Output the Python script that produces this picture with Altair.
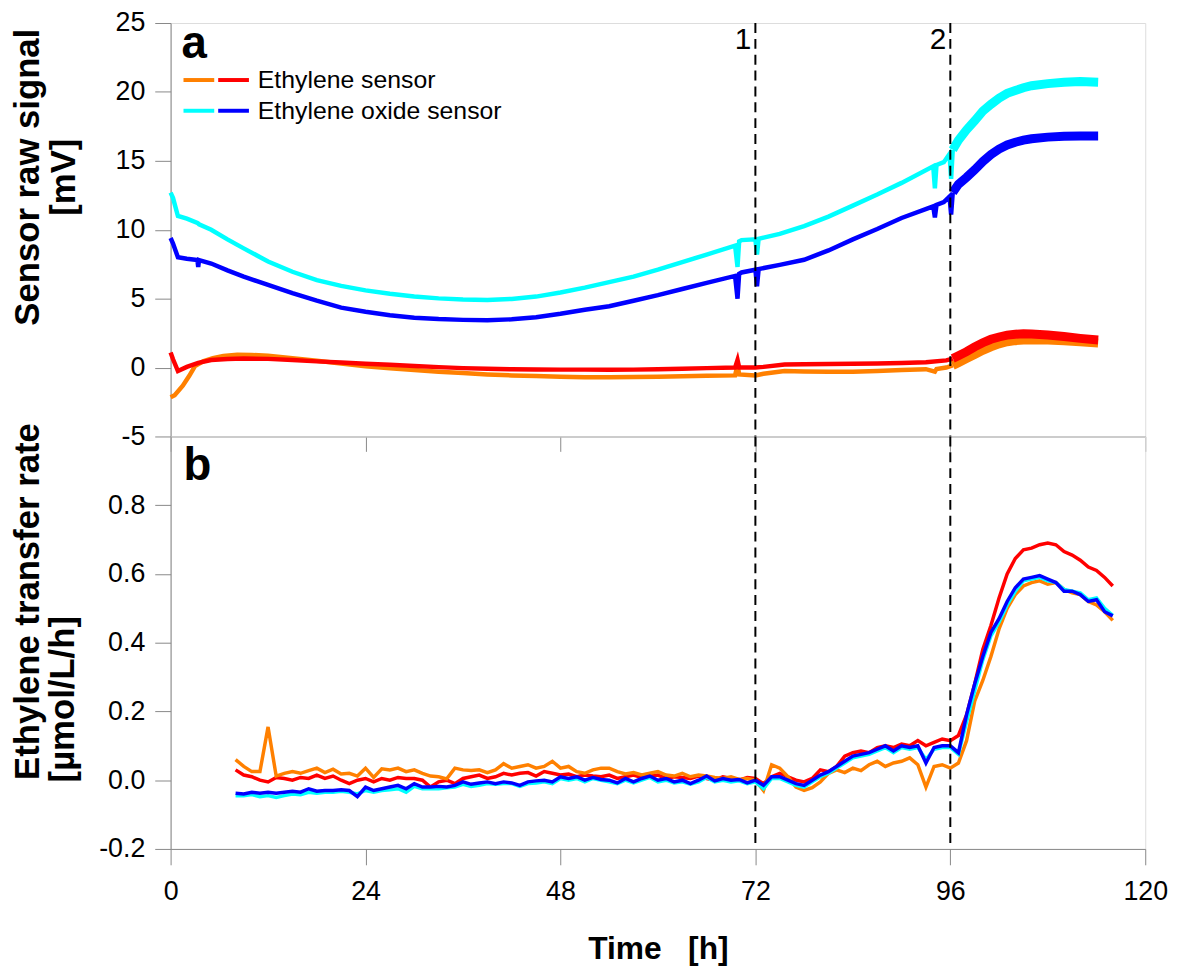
import altair as alt
import pandas as pd

SERIES = ["Ethylene sensor", "Ethylene oxide sensor"]
ORANGE, RED, CYAN, BLUE = "#FF8000", "#FF0000", "#00FFFF", "#0000FF"

# ---------------- panel a: raw sensor signal [mV] ----------------
T_EO = [0, 0.3, 0.9, 2, 3.3, 3.4, 3.5, 5, 7, 9, 12, 15, 18, 21, 24, 27, 30, 33, 36, 39,
        42, 45, 48, 51, 54, 57, 60, 63, 66, 69.5, 69.8, 70.0, 70.3, 72.0, 72.2, 72.4, 75, 78,
        81, 84, 87, 90, 93.9, 94.1, 94.3, 95.2, 95.9, 96.1, 96.3, 97, 98, 99, 100, 101, 102,
        103, 104, 105, 106, 108, 110, 112, 114.2]
A_CYAN = [12.7, 12.3, 11.0, 10.8, 10.5, 10.45, 10.4, 10.0, 9.3, 8.65, 7.7, 6.95, 6.35, 5.93,
          5.6, 5.35, 5.15, 5.02, 4.94, 4.9, 4.98, 5.15, 5.45, 5.8, 6.2, 6.6, 7.1, 7.65, 8.2,
          8.85, 7.3, 9.15, 9.25, 9.3, 8.2, 9.35, 9.7, 10.27, 10.95, 11.75, 12.55, 13.4, 14.6,
          13.0, 14.7, 14.9, 15.5, 13.7, 15.8, 16.5, 17.25, 17.9, 18.6, 19.1, 19.55, 19.9, 20.1,
          20.3, 20.45, 20.6, 20.7, 20.75, 20.7]
A_BLUE = [9.4, 9.0, 8.0, 7.9, 7.8, 7.3, 7.8, 7.55, 7.05, 6.6, 6.0, 5.4, 4.85, 4.35, 4.05, 3.8,
          3.62, 3.52, 3.46, 3.43, 3.5, 3.65, 3.9, 4.2, 4.45, 4.85, 5.25, 5.7, 6.15, 6.65, 5.0,
          6.8, 6.9, 7.1, 5.9, 7.15, 7.45, 7.82, 8.5, 9.3, 10.05, 10.85, 11.7, 10.9, 11.8, 12.0,
          12.4, 11.1, 12.7, 13.3, 13.8, 14.35, 14.95, 15.45, 15.85, 16.15, 16.35, 16.5, 16.6,
          16.72, 16.78, 16.8, 16.8]
T_RED = [0, 0.3, 0.9, 2, 3.4, 5, 7, 9, 12, 15, 18, 21, 24, 27, 30, 33, 36, 39, 42, 45, 48, 51,
         54, 57, 60, 63, 66, 69.5, 69.8, 70.0, 72, 73, 75.6, 78, 81, 84, 87, 90, 93, 95.5, 96.3,
         97, 98, 99, 100, 101, 102, 103, 104, 105, 106, 108, 110, 112, 114.2]
A_RED = [1.1, 0.6, -0.25, 0.05, 0.34, 0.55, 0.62, 0.65, 0.63, 0.55, 0.45, 0.37, 0.28, 0.2, 0.12,
         0.03, -0.04, -0.09, -0.12, -0.14, -0.15, -0.15, -0.16, -0.15, -0.12, -0.08, -0.04, 0.0,
         0.55, 0.0, 0.0, 0.05, 0.22, 0.24, 0.26, 0.27, 0.3, 0.33, 0.38, 0.52, 0.65, 0.85, 1.15,
         1.5, 1.8, 2.05, 2.22, 2.35, 2.42, 2.45, 2.43, 2.36, 2.25, 2.12, 2.0]
T_ORANGE = [0, 0.5, 1.5, 2.3, 3, 4, 5.2, 6.5, 8.2, 10, 12, 15, 18, 21, 24, 27, 30, 33, 36, 39,
            42, 45, 48, 51, 54, 57, 60, 63, 66, 69.5, 69.8, 70.0, 72, 73, 75.6, 78, 81, 84, 87,
            90, 93, 94.1, 94.3, 95.5, 96.3, 97, 98, 99, 100, 101, 102, 103, 104, 105, 106, 108,
            110, 112, 114.2]
A_ORANGE = [-2.15, -2.0, -1.32, -0.6, 0.1, 0.45, 0.69, 0.85, 0.93, 0.92, 0.85, 0.68, 0.5, 0.3,
            0.1, -0.05, -0.18, -0.3, -0.4, -0.5, -0.57, -0.62, -0.67, -0.7, -0.7, -0.68, -0.66,
            -0.63, -0.6, -0.57, 0.22, -0.5, -0.57, -0.45, -0.25, -0.28, -0.3, -0.3, -0.25, -0.18,
            -0.12, -0.3, -0.1, 0.0, 0.15, 0.35, 0.65, 0.95, 1.25, 1.5, 1.72, 1.87, 1.95, 2.0,
            2.02, 2.0, 1.95, 1.87, 1.78]

# ---------------- panel b: ethylene transfer rate [umol/L/h], hourly 8..116 h ----------------
T_RATE = list(range(8, 117))
B_ORANGE = [0.06, 0.04, 0.025, 0.025, 0.155, 0.012, 0.02, 0.025, 0.02, 0.028,
            0.035, 0.022, 0.032, 0.018, 0.02, 0.012, 0.035, 0.008, 0.033, 0.03,
            0.035, 0.025, 0.03, 0.02, 0.012, 0.01, 0.004, 0.035, 0.03, 0.028,
            0.03, 0.022, 0.03, 0.048, 0.035, 0.04, 0.045, 0.035, 0.04, 0.055,
            0.035, 0.04, 0.025, 0.02, 0.03, 0.035, 0.035, 0.025, 0.018, 0.022,
            0.015, 0.02, 0.025, 0.015, 0.012, 0.02, 0.01, 0.015, 0.012, 0.008,
            0.005, 0.01, 0.002, 0.005, 0.0, -0.03, 0.045, 0.035, 0.01, -0.02,
            -0.03, -0.022, -0.005, 0.02, 0.03, 0.022, 0.035, 0.028, 0.045, 0.055,
            0.04, 0.05, 0.055, 0.065, 0.045, -0.02, 0.04, 0.045, 0.035, 0.05,
            0.115, 0.23, 0.29, 0.36, 0.44, 0.5, 0.54, 0.565, 0.575, 0.58,
            0.57, 0.575, 0.555, 0.545, 0.54, 0.52, 0.51, 0.49, 0.465]
B_RED = [0.03, 0.015, 0.01, 0.0, -0.005, 0.008, 0.005, 0.0, 0.008, 0.005,
         0.015, 0.005, 0.012, 0.0, -0.01, 0.0, 0.005, -0.005, 0.005, 0.0,
         0.008, 0.005, 0.005, 0.0, -0.02, -0.005, 0.0, -0.01, 0.005, 0.01,
         0.015, 0.005, 0.01, 0.02, 0.015, 0.02, 0.022, 0.012, 0.025, 0.02,
         0.015, 0.018, 0.01, 0.015, 0.012, 0.01, 0.015, 0.005, 0.01, 0.015,
         0.008, 0.012, 0.015, 0.005, 0.01, 0.008, 0.005, 0.012, 0.005, 0.0,
         0.01, 0.005, 0.0, 0.008, 0.005, -0.01, 0.01, 0.02, 0.01, 0.0,
         -0.005, 0.005, 0.03, 0.025, 0.04, 0.07, 0.08, 0.085, 0.08, 0.095,
         0.1, 0.095, 0.105, 0.1, 0.115, 0.1, 0.11, 0.12, 0.115, 0.13,
         0.19, 0.28, 0.38, 0.45, 0.53, 0.6, 0.645, 0.67, 0.675, 0.685,
         0.69, 0.685, 0.665, 0.655, 0.64, 0.62, 0.61, 0.59, 0.565]
B_CYAN = [-0.045, -0.045, -0.042, -0.048, -0.045, -0.05, -0.045, -0.04, -0.042, -0.035,
          -0.038, -0.035, -0.035, -0.032, -0.035, -0.04, -0.03, -0.035, -0.03, -0.028,
          -0.025, -0.035, -0.018, -0.025, -0.025, -0.025, -0.022, -0.02, -0.012, -0.018,
          -0.015, -0.01, -0.012, -0.01, -0.01, -0.018, -0.01, -0.008, -0.005, -0.01,
          0.005, 0.0, 0.005, -0.005, 0.005, 0.0, -0.005, -0.01, 0.0, -0.008,
          0.0, 0.008, -0.005, 0.0, -0.008, -0.005, -0.012, -0.005, 0.008, -0.005,
          0.0, -0.005, -0.002, -0.01, -0.005, -0.025, 0.005, 0.005, -0.005, -0.015,
          -0.02, -0.005, 0.01, 0.02, 0.035, 0.05, 0.065, 0.07, 0.075, 0.085,
          0.095, 0.08, 0.095, 0.09, 0.095, 0.06, 0.09, 0.095, 0.095, 0.075,
          0.17, 0.26, 0.35, 0.42, 0.46, 0.51, 0.55, 0.58, 0.585, 0.59,
          0.58, 0.575, 0.555, 0.55, 0.545, 0.525, 0.53, 0.5, 0.48]
B_BLUE = [-0.038, -0.04, -0.035, -0.038, -0.035, -0.038, -0.035, -0.032, -0.035, -0.025,
          -0.032, -0.03, -0.03, -0.028, -0.03, -0.048, -0.02, -0.03, -0.025, -0.02,
          -0.015, -0.025, -0.01, -0.02, -0.02, -0.018, -0.02, -0.015, -0.005, -0.012,
          -0.008, -0.005, -0.01, -0.005, -0.008, -0.015, -0.005, -0.002, 0.0, -0.005,
          0.01, 0.005, 0.01, 0.0, 0.008, 0.002, 0.0, -0.008, 0.005, -0.005,
          0.005, 0.012, 0.0, 0.005, -0.005, 0.0, -0.01, 0.0, 0.012, -0.002,
          0.005, 0.0, 0.002, -0.008, 0.0, -0.015, 0.01, 0.01, 0.0, -0.01,
          -0.015, 0.0, 0.015, 0.025, 0.04, 0.055, 0.07, 0.075, 0.08, 0.09,
          0.1, 0.085, 0.1, 0.095, 0.1, 0.05, 0.095, 0.1, 0.1, 0.08,
          0.19, 0.28, 0.36, 0.43, 0.47, 0.52, 0.56, 0.585, 0.59, 0.595,
          0.585, 0.575, 0.55, 0.55, 0.54, 0.52, 0.525, 0.49, 0.478]

EVENT_T = [72, 96]
EVENT_LABELS = ["1", "2"]
X_TICKS = [0, 24, 48, 72, 96, 120]
Y_TICKS_A = [-5, 0, 5, 10, 15, 20, 25]
Y_TICKS_B = [-0.2, 0.0, 0.2, 0.4, 0.6, 0.8]
TITLE_A = ["Sensor raw signal", "[mV]"]
TITLE_B1 = "Ethylene transfer rate"
TITLE_B2 = ["[\u00b5mol/L/h]"]

FONT = "Liberation Sans"
SPLIT = 96.3
TFS, TLH, TPAD = 35, 36, 18


def top_rows(ts, vs, series):
    rows = []
    for t, v in zip(ts, vs):
        if t <= SPLIT:
            rows.append({"t": t, "v": v, "series": series, "seg": "early"})
        if t >= SPLIT:
            rows.append({"t": t, "v": v, "series": series, "seg": "late"})
    return rows


df_rep1 = pd.DataFrame(top_rows(T_ORANGE, A_ORANGE, SERIES[0]) + top_rows(T_EO, A_CYAN, SERIES[1]))
df_rep2 = pd.DataFrame(top_rows(T_RED, A_RED, SERIES[0]) + top_rows(T_EO, A_BLUE, SERIES[1]))
df_ev = pd.DataFrame({"t": EVENT_T, "label": EVENT_LABELS})

W, H_TOP, H_BOT = 983, 417, 416
xscale = alt.Scale(domain=[0, 120], nice=False, zero=False)
neg_int = "datum.value < 0 ? '-' + format(-datum.value, 'd') : format(datum.value, 'd')"
neg_dec = "datum.value < 0 ? '-' + format(-datum.value, '.1f') : format(datum.value, '.1f')"

axis_x_top = alt.Axis(values=X_TICKS, labels=False, tickSize=15, title=None, grid=False)
axis_y_top = alt.Axis(values=Y_TICKS_A, tickSize=16, labelPadding=10, labelFontSize=27,
                      labelExpr=neg_int, title=TITLE_A, titleY=155,
                      titleFontSize=TFS, titleFontWeight="bold", titleLineHeight=TLH,
                      titlePadding=TPAD, minExtent=72, maxExtent=72, grid=False,
                      labelFlush=False, labelOverlap=False)
yscale_top = alt.Scale(domain=[-5, 25], nice=False, zero=False)
sw = alt.StrokeWidth("seg:N", scale=alt.Scale(domain=["early", "late"], range=[4.5, 9]), legend=None)


def legend(x, visible):
    extra = {} if visible else {"labelExpr": "''"}
    return alt.Legend(orient="none", legendX=x, legendY=40, title=None, symbolType="stroke",
                      symbolSize=961, symbolStrokeWidth=4, labelFontSize=25, labelFont=FONT,
                      labelColor="black", labelLimit=600, rowPadding=0,
                      labelOffset=7, padding=0, **extra)


line1 = alt.Chart(df_rep1).mark_line(strokeCap="butt").encode(
    x=alt.X("t:Q", scale=xscale, axis=axis_x_top),
    y=alt.Y("v:Q", scale=yscale_top, axis=axis_y_top),
    stroke=alt.Stroke("series:N", scale=alt.Scale(domain=SERIES, range=[ORANGE, CYAN]),
                      legend=legend(11, False)),
    strokeWidth=sw,
    detail="seg:N",
)
line2 = alt.Chart(df_rep2).mark_line(strokeCap="butt").encode(
    x=alt.X("t:Q", scale=xscale, axis=axis_x_top),
    y=alt.Y("v:Q", scale=yscale_top, axis=axis_y_top),
    stroke=alt.Stroke("series:N", scale=alt.Scale(domain=SERIES, range=[RED, BLUE]),
                      legend=legend(46, True)),
    strokeWidth=sw,
    detail="seg:N",
)
rules_top = alt.Chart(df_ev).mark_rule(strokeDash=[10, 6], strokeWidth=2, color="black").encode(
    x=alt.X("t:Q", scale=xscale))
ev_text = alt.Chart(df_ev).mark_text(align="right", baseline="middle", dx=-4, fontSize=30,
                                     font=FONT, color="black").encode(
    x=alt.X("t:Q", scale=xscale), y=alt.value(17), text="label:N")
letter_a = alt.Chart(pd.DataFrame({"letter": ["a"]})).mark_text(
    align="left", baseline="alphabetic", fontSize=46, fontWeight="bold", font=FONT,
    color="black").encode(x=alt.value(11), y=alt.value(35), text="letter:N")

top = alt.layer(line1, line2, rules_top, ev_text, letter_a).resolve_scale(
    stroke="independent").properties(width=W, height=H_TOP)

# bottom panel
rows_b = []
for name, col, vals in [("e1", RED, B_RED), ("e2", ORANGE, B_ORANGE),
                        ("o1", CYAN, B_CYAN), ("o2", BLUE, B_BLUE)]:
    for t, v in zip(T_RATE, vals):
        rows_b.append({"t": t, "v": v, "sid": name, "col": col})
df_b = pd.DataFrame(rows_b)

axis_x_bot = alt.Axis(values=X_TICKS, tickSize=16, labelPadding=14, labelFontSize=27,
                      title="Time\u00a0\u00a0\u00a0[h]", titleFontSize=32, titleFontWeight="bold",
                      titlePadding=30, grid=False, labelFlush=False, labelOverlap=False)
axis_y_bot = alt.Axis(values=Y_TICKS_B, tickSize=16, labelPadding=10, labelFontSize=27,
                      labelExpr=neg_dec, title=TITLE_B1, titleY=166,
                      titleFontSize=TFS, titleFontWeight="bold",
                      titlePadding=TPAD + TLH, minExtent=72, maxExtent=72, grid=False,
                      labelFlush=False, labelOverlap=False)
yscale_bot = alt.Scale(domain=[-0.2, 1.0], nice=False, zero=False)

b_layers = []
for sid in ["e1", "e2", "o1", "o2"]:
    b_layers.append(alt.Chart(df_b).transform_filter(alt.datum.sid == sid).mark_line(
        strokeWidth=3.5).encode(
        x=alt.X("t:Q", scale=xscale, axis=axis_x_bot),
        y=alt.Y("v:Q", scale=yscale_bot, axis=axis_y_bot),
        stroke=alt.Stroke("col:N", scale=None),
    ))
rules_bot = alt.Chart(df_ev).mark_rule(strokeDash=[10, 6], strokeWidth=2, color="black").encode(
    x=alt.X("t:Q", scale=xscale))
letter_b = alt.Chart(pd.DataFrame({"letter": ["b"]})).mark_text(
    align="left", baseline="alphabetic", fontSize=46, fontWeight="bold", font=FONT,
    color="black").encode(x=alt.value(13), y=alt.value(44), text="letter:N")
unit_b = alt.Chart(pd.DataFrame({"unit": TITLE_B2})).mark_text(
    align="center", baseline="bottom", angle=270, fontSize=TFS, fontWeight="bold", font=FONT,
    color="black").encode(x=alt.value(-(72 + TPAD)), y=alt.value(265), text="unit:N")

bottom = alt.layer(*b_layers, rules_bot, letter_b, unit_b).properties(width=W, height=H_BOT)

chart = alt.vconcat(top, bottom, spacing=0, bounds="flush").resolve_scale(
    stroke="independent", strokeWidth="independent").properties(
    padding={"left": 2, "top": -4, "right": 4, "bottom": 4}
).configure_axis(
    domainColor="black", domainWidth=2, tickColor="black", tickWidth=2,
    labelColor="black", titleColor="black", labelFont=FONT, titleFont=FONT
).configure_view(stroke="black", strokeWidth=2).configure(background="white")

chart.save("out.html", embed_options={"renderer": "svg", "actions": False})
